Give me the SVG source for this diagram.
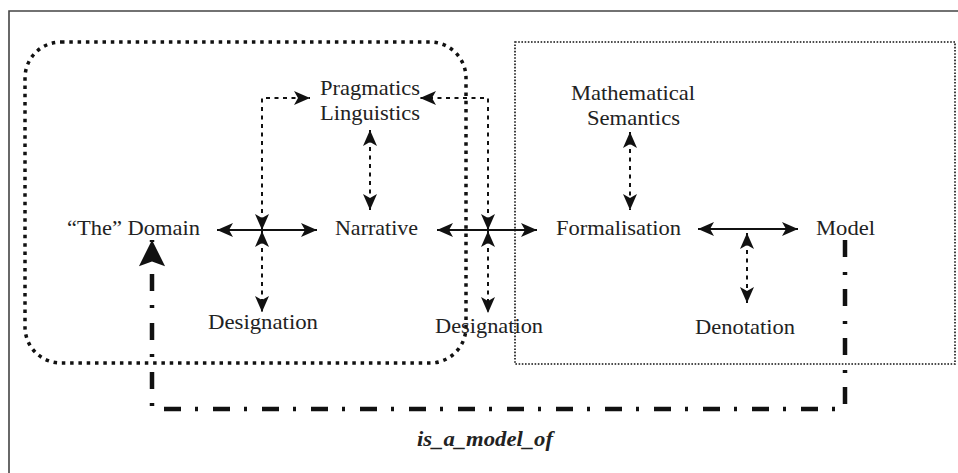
<svg xmlns="http://www.w3.org/2000/svg" width="958" height="473" viewBox="0 0 958 473">
<defs>
<marker id="ah" viewBox="0 0 16 14" refX="16" refY="7" markerWidth="16" markerHeight="14" markerUnits="userSpaceOnUse" orient="auto-start-reverse">
<path d="M0,0 L16,7 L0,14 L4,7 Z" fill="#111"/>
</marker>
<marker id="big" viewBox="0 0 28 30" refX="28" refY="15" markerWidth="30" markerHeight="28" markerUnits="userSpaceOnUse" orient="auto">
<path d="M0,1 L28,15 L0,29 L5,15 Z" fill="#111"/>
</marker>
</defs>
<style>
.t{font-family:"Liberation Serif","Times New Roman",Times,serif;font-size:21px;fill:#222;text-anchor:middle}
.solid{stroke:#111;stroke-width:2;fill:none}
.dot{stroke:#111;stroke-width:2;stroke-dasharray:4 4.5;fill:none}
.lbl{font-weight:bold;font-style:italic}
</style>
<rect width="958" height="473" fill="#fff"/>
<path d="M9,473 L9,11 L958,11" stroke="#444" stroke-width="1.6" fill="none"/>
<g id="domain-box"><rect x="25" y="42" width="441" height="321" rx="36" ry="36" fill="none" stroke="#111" stroke-width="3.5" stroke-dasharray="3.5 4.8"/></g>
<g id="formal-box"><rect x="515" y="42" width="440" height="322" fill="none" stroke="#111" stroke-width="1.6" stroke-dasharray="1.6 1.6"/></g>
<g id="pragmatics"><text class="t" x="370" y="95" textLength="100" lengthAdjust="spacingAndGlyphs">Pragmatics</text><text class="t" x="370" y="120" textLength="100" lengthAdjust="spacingAndGlyphs">Linguistics</text></g>
<g id="mathsem"><text class="t" x="633" y="100" textLength="124" lengthAdjust="spacingAndGlyphs">Mathematical</text><text class="t" x="633.5" y="125" textLength="93" lengthAdjust="spacingAndGlyphs">Semantics</text></g>
<g id="domain"><text class="t" x="133.5" y="235" textLength="133" lengthAdjust="spacingAndGlyphs">“The” Domain</text></g>
<g id="narrative"><text class="t" x="376.5" y="235" textLength="83" lengthAdjust="spacingAndGlyphs">Narrative</text></g>
<g id="formalisation"><text class="t" x="618.5" y="235" textLength="125" lengthAdjust="spacingAndGlyphs">Formalisation</text></g>
<g id="model"><text class="t" x="845.5" y="235" textLength="59" lengthAdjust="spacingAndGlyphs">Model</text></g>
<g id="designation1"><text class="t" x="263" y="329" textLength="110" lengthAdjust="spacingAndGlyphs">Designation</text></g>
<g id="designation2"><text class="t" x="489" y="333" textLength="108" lengthAdjust="spacingAndGlyphs">Designation</text></g>
<g id="denotation"><text class="t" x="745" y="334" textLength="100" lengthAdjust="spacingAndGlyphs">Denotation</text></g>
<g id="label"><text class="t lbl" x="485" y="446" textLength="136" lengthAdjust="spacingAndGlyphs">is_a_model_of</text></g>
<g id="connectors">
<line class="solid" x1="262" y1="230" x2="217" y2="230" marker-end="url(#ah)"/>
<line class="solid" x1="262" y1="230" x2="317" y2="230" marker-end="url(#ah)"/>
<path class="dot" d="M262,230 L262,98 L310,98" marker-start="url(#ah)" marker-end="url(#ah)"/>
<line class="dot" x1="262" y1="231" x2="262" y2="312" marker-start="url(#ah)" marker-end="url(#ah)"/>
<line class="dot" x1="370" y1="130" x2="370" y2="210" marker-start="url(#ah)" marker-end="url(#ah)"/>
<line class="solid" x1="488" y1="230" x2="437" y2="230" marker-end="url(#ah)"/>
<line class="solid" x1="488" y1="230" x2="537" y2="230" marker-end="url(#ah)"/>
<path class="dot" d="M488,230 L488,98 L420,98" marker-start="url(#ah)" marker-end="url(#ah)"/>
<line class="dot" x1="488" y1="231" x2="488" y2="313" marker-start="url(#ah)" marker-end="url(#ah)"/>
<line class="dot" x1="630" y1="132" x2="630" y2="210" marker-start="url(#ah)" marker-end="url(#ah)"/>
<line class="solid" x1="698" y1="229" x2="798" y2="229" marker-start="url(#ah)" marker-end="url(#ah)"/>
<line class="dot" x1="747" y1="233" x2="747" y2="303" marker-start="url(#ah)" marker-end="url(#ah)"/>
<path d="M845,240 L845,409 L152,409 L152,240" fill="none" stroke="#111" stroke-width="4.5" stroke-dasharray="17 15 3 14" marker-end="url(#big)"/>
</g>
</svg>
